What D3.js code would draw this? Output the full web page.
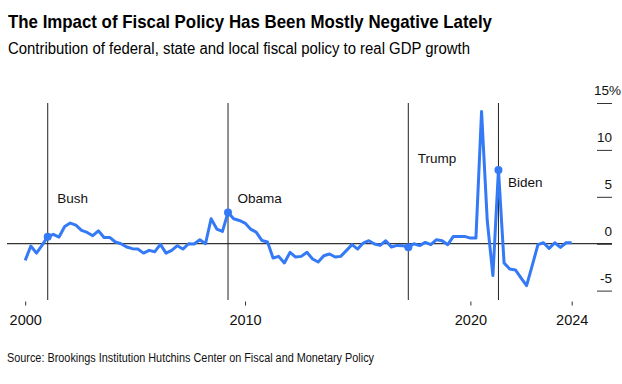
<!DOCTYPE html>
<html>
<head>
<meta charset="utf-8">
<script src="https://cdn.jsdelivr.net/npm/d3@7"></script>
<style>
  body { margin: 0; background: #fff; }
  svg { font-family: "Liberation Sans", Arial, Helvetica, sans-serif; }
</style>
</head>
<body>
<div id="chart"></div>
<script>
// Quarterly fiscal impact, 2000 Q1 .. 2024 Q2 (percentage points).
var firstYear = 2000;
var impact = [
  -1.78, -0.25, -1.0, -0.15,
  0.75, 1.0, 0.71, 1.84,
  2.2, 1.99, 1.42, 1.2,
  0.85, 1.38, 0.67, 0.67,
  0.18, 0.0, -0.35, -0.53,
  -0.57, -1.0, -0.71, -0.85,
  -0.07, -1.0, -0.71, -0.21,
  -0.57, 0.0, -0.03, 0.43,
  0.0, 2.66, 1.56, 1.31,
  3.33, 2.66, 2.48, 2.2,
  1.56, 1.24, 0.35, 0.18,
  -1.52, -1.35, -2.05, -0.92,
  -1.42, -1.35, -0.92, -1.63,
  -1.95, -1.28, -1.1, -1.42,
  -1.35, -0.74, -0.1, -0.57,
  0.07, 0.32, -0.03, -0.18,
  0.32, -0.35, -0.18, -0.21,
  -0.39, 0.0, -0.2, 0.14,
  -0.1, 0.43, 0.32, -0.1,
  0.78, 0.78, 0.78, 0.6,
  0.6, 14.1, 2.5, -3.4,
  7.87, -2.05, -2.7, -2.8,
  -3.65, -4.47, -2.3, -0.1,
  0.1, -0.5, 0.1, -0.4,
  0.1, 0.1
];
// Presidents and the quarter they took office.
var presidents = ['Bush', 'Obama', 'Trump', 'Biden'];
var inaugQuarter = ['2001-1', '2009-1', '2017-1', '2021-1'];
var labelLevel = [4.3, 4.3, 8.6, 6.0];
var yTicks = [-5, 0, 5, 10, 15];
var xTickYears = ['2000', '2010', '2020', '2024'];

var width = 622, height = 384;

// Build quarter-end dates for the series.
var parseQ = function (s) {
  var p = s.split('-');
  return d3.timeDay.offset(new Date(+p[0], (+p[1]) * 3, 1), -1);
};
var data = impact.map(function (v, i) {
  var y = firstYear + Math.floor(i / 4), q = i % 4 + 1;
  return {date: parseQ(y + '-' + q), value: v};
});

var svg = d3.select('#chart').append('svg')
  .attr('width', width)
  .attr('height', height);

// Title and subtitle.
svg.append('text')
  .attr('x', 8).attr('y', 28)
  .attr('font-size', 19).attr('font-weight', 'bold')
  .attr('textLength', 484).attr('lengthAdjust', 'spacingAndGlyphs')
  .text('The Impact of Fiscal Policy Has Been Mostly Negative Lately');
svg.append('text')
  .attr('x', 8).attr('y', 53.5)
  .attr('font-size', 16)
  .attr('textLength', 462).attr('lengthAdjust', 'spacingAndGlyphs')
  .text('Contribution of federal, state and local fiscal policy to real GDP growth');

// Scales.
var x = d3.scaleTime()
  .domain([data[0].date, data[data.length - 1].date])
  .range([25.2, 571.7]);
var y = d3.scaleLinear().domain([-6, 15]).range([300, 103]);

// Y axis on the right; the top label carries the unit.
var yAxis = svg.append('g')
  .attr('transform', 'translate(612,0)')
  .call(d3.axisLeft(y).tickValues(yTicks).tickSize(15)
    .tickFormat(function (d) { return d === 15 ? d + '%' : d; }))
  .attr('font-family', null).attr('font-size', null);
yAxis.select('.domain').remove();
yAxis.selectAll('.tick line').attr('stroke', '#333');
yAxis.selectAll('.tick text')
  .attr('x', function (d) { return d === 15 ? 9 : 0; })
  .attr('y', -8.5).attr('dy', 0)
  .attr('text-anchor', 'end')
  .attr('font-size', 13.5)
  .attr('fill', '#111');

// X axis.
var xTickDates = [data[0].date, new Date(2010, 0, 1), new Date(2020, 0, 1), data[data.length - 1].date];
var xAxis = svg.append('g')
  .attr('transform', 'translate(0,301.5)')
  .call(d3.axisBottom(x).tickValues(xTickDates).tickSize(4)
    .tickFormat(function (d, i) { return xTickYears[i]; }))
  .attr('font-family', null).attr('font-size', null);
xAxis.select('.domain').remove();
xAxis.selectAll('.tick line').attr('stroke', '#333');
xAxis.selectAll('.tick text')
  .attr('y', 23.5).attr('dy', 0)
  .attr('font-size', 14.5)
  .attr('fill', '#111');

// Zero line.
svg.append('line')
  .attr('x1', 7).attr('x2', 612)
  .attr('y1', y(0)).attr('y2', y(0))
  .attr('stroke', '#000').attr('stroke-width', 1);

// President lines and labels.
var pres = presidents.map(function (name, i) {
  return {name: name, date: parseQ(inaugQuarter[i]), level: labelLevel[i]};
});
svg.selectAll('.pres-line')
  .data(pres).enter().append('line')
  .attr('class', 'pres-line')
  .attr('x1', function (d) { return x(d.date); })
  .attr('x2', function (d) { return x(d.date); })
  .attr('y1', y(15)).attr('y2', y(-6))
  .attr('stroke', '#222').attr('stroke-width', 1);
svg.selectAll('.pres-label')
  .data(pres).enter().append('text')
  .attr('class', 'pres-label')
  .attr('x', function (d) { return x(d.date) + 9.5; })
  .attr('y', function (d) { return y(d.level); })
  .attr('font-size', 13.5).attr('fill', '#111')
  .text(function (d) { return d.name; });

// The series line.
var line = d3.line()
  .x(function (d) { return x(d.date); })
  .y(function (d) { return y(d.value); });
svg.append('path')
  .datum(data)
  .attr('fill', 'none')
  .attr('stroke', '#3479f6')
  .attr('stroke-width', 3)
  .attr('stroke-linejoin', 'round')
  .attr('d', line);

// Dots where each president took office.
var byDate = {};
data.forEach(function (d) { byDate[+d.date] = d.value; });
svg.selectAll('.pres-dot')
  .data(pres).enter().append('circle')
  .attr('class', 'pres-dot')
  .attr('cx', function (d) { return x(d.date); })
  .attr('cy', function (d) { return y(byDate[+d.date]); })
  .attr('r', 4)
  .attr('fill', '#3479f6');

// Source note.
svg.append('text')
  .attr('x', 7).attr('y', 361.5)
  .attr('font-size', 12.5).attr('fill', '#111')
  .attr('textLength', 367).attr('lengthAdjust', 'spacingAndGlyphs')
  .text('Source: Brookings Institution Hutchins Center on Fiscal and Monetary Policy');
</script>
</body>
</html>
